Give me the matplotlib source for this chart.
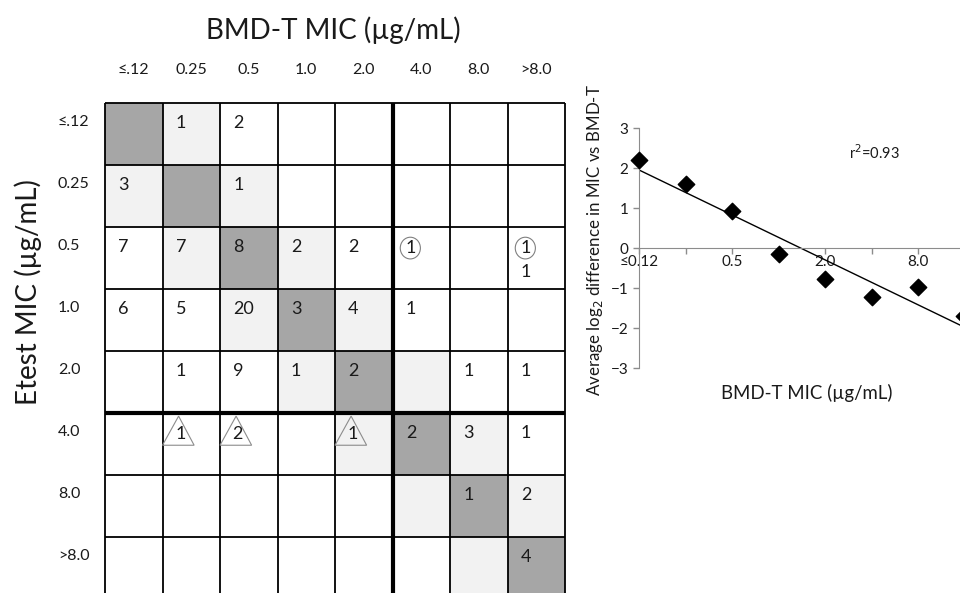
import numpy as np
import matplotlib.pyplot as plt
from matplotlib.patches import Rectangle, Polygon, Circle

plt.rcParams['font.family'] = ['Lato', 'DejaVu Sans']

# ---- data ----
grid_cols = ["≤.12", "0.25", "0.5", "1.0", "2.0", "4.0", "8.0", ">8.0"]
grid_rows = ["≤.12", "0.25", "0.5", "1.0", "2.0", "4.0", "8.0", ">8.0"]

# plain counts, row = Etest MIC, col = BMD-T MIC (0 = empty)
counts = [
    [0, 1, 2, 0, 0, 0, 0, 0],
    [3, 0, 1, 0, 0, 0, 0, 0],
    [7, 7, 8, 2, 2, 0, 0, 1],
    [6, 5, 20, 3, 4, 1, 0, 0],
    [0, 1, 9, 1, 2, 0, 1, 1],
    [0, 0, 0, 0, 0, 2, 3, 1],
    [0, 0, 0, 0, 0, 0, 1, 2],
    [0, 0, 0, 0, 0, 0, 0, 4],
]
# circled counts (row, col, n) and triangle counts (row, col, n)
circled = [(2, 5, 1), (2, 7, 1)]
triangled = [(5, 1, 1), (5, 2, 2), (5, 4, 1)]

scat_labels = ["≤0.12", "0.25", "0.5", "1.0", "2.0", "4.0", "8.0", ">8.0"]
avg_diff = [2.2, 1.59, 0.93, -0.16, -0.78, -1.23, -0.98, -1.69]
r2_text = "r$^2$=0.93"

W, H = 960, 593
fig = plt.figure(figsize=(9.6, 5.93), dpi=100)


def px_axes(x0, y0, x1, y1):
    return fig.add_axes([x0 / W, 1 - y1 / H, (x1 - x0) / W, (y1 - y0) / H])


txt = '#1a1a1a'
dark = '#a6a6a6'
light = '#f2f2f2'

# ---- grid table ----
ax = px_axes(105, 103, 565, 599)
n = len(grid_cols)
ax.set_xlim(0, n)
ax.set_ylim(n, 0)
ax.axis('off')

for r in range(n):
    for c in range(n):
        if r == c:
            col = dark
        elif abs(r - c) == 1:
            col = light
        else:
            continue
        ax.add_patch(Rectangle((c, r), 1, 1, facecolor=col, edgecolor='none', zorder=1))

for i in range(n + 1):
    lw = 3.0 if i == 5 else 1.3
    ax.plot([i, i], [0, n], color='black', lw=lw, zorder=3, clip_on=False,
            solid_capstyle='butt')
    ax.plot([0, n], [i, i], color='black', lw=lw, zorder=3, clip_on=False,
            solid_capstyle='butt')

fs = 13
circ_cells = {(r, c) for r, c, _ in circled}
for r in range(n):
    for c in range(n):
        v = counts[r][c]
        if v:
            yy = r + 0.73 if (r, c) in circ_cells else r + 0.32
            ax.text(c + 0.23, yy, str(v), ha='left', va='center', fontsize=fs,
                    color=txt, zorder=4)

for r, c, v in circled:
    ax.add_patch(Circle((c + 0.31, r + 0.34), 0.175, transform=ax.transData,
                        fill=False, edgecolor='#808080', lw=0.8, zorder=4))
    ax.text(c + 0.31, r + 0.34, str(v), ha='center', va='center', fontsize=fs,
            color=txt, zorder=5)

for r, c, v in triangled:
    ax.add_patch(Polygon([(c, r + 0.52), (c + 0.55, r + 0.52), (c + 0.28, r + 0.05)],
                         closed=True, fill=False, edgecolor='#8c8c8c', lw=0.8, zorder=4))
    ax.text(c + 0.31, r + 0.34, str(v), ha='center', va='center', fontsize=fs,
            color=txt, zorder=5)

for i, lab in enumerate(grid_rows):
    ax.text(-0.82, i + 0.31, lab, ha='left', va='center', fontsize=11.5, color=txt,
            clip_on=False)

for i, lab in enumerate(grid_cols):
    ax.text(i + 0.5, -0.53, lab, ha='center', va='center', fontsize=11.5, color=txt,
            clip_on=False)

fig.text(333 / W, 1 - 30 / H, "BMD-T MIC (µg/mL)", ha='center', va='center',
         fontsize=20, color=txt)
fig.text(28 / W, 1 - 292 / H, "Etest MIC (µg/mL)", ha='center', va='center',
         fontsize=20, color=txt, rotation=90)

# ---- scatter ----
ax2 = px_axes(639, 128, 639 + 7.5 * 46.5, 368)
x = np.arange(len(avg_diff))
ax2.scatter(x, avg_diff, marker='D', s=70, color='black', zorder=3, clip_on=False)
m, b = np.polyfit(x, avg_diff, 1)
xf = np.array([0, 7.5])
ax2.plot(xf, m * xf + b, color='black', lw=1.0, zorder=2)

ax2.set_xlim(0, 7.5)
ax2.set_ylim(-3, 3)
for s in ['top', 'right']:
    ax2.spines[s].set_visible(False)
ax2.spines['bottom'].set_position(('data', 0))
ax2.spines['bottom'].set_color('#8c8c8c')
ax2.spines['left'].set_color('#8c8c8c')
ax2.set_xticks(x)
ax2.set_xticklabels([lab if i % 2 == 0 else '' for i, lab in enumerate(scat_labels)])
ax2.set_yticks([-3, -2, -1, 0, 1, 2, 3])
ax2.tick_params(axis='both', colors='#8c8c8c', labelcolor=txt, length=4, width=1,
                labelsize=11)
ax2.tick_params(axis='x', pad=1)
ax2.set_ylabel("Average log$_2$ difference in MIC vs BMD-T", fontsize=12.2, color=txt)
ax2.yaxis.set_label_coords(-0.098, 0.535)
fig.text(874 / W, 1 - 153 / H, r2_text, ha='center', va='center', fontsize=10.5,
         color=txt)
fig.text(807 / W, 1 - 393 / H, "BMD-T MIC (µg/mL)", ha='center', va='center',
         fontsize=13.4, color=txt)

fig.savefig('out.png', dpi=100)
